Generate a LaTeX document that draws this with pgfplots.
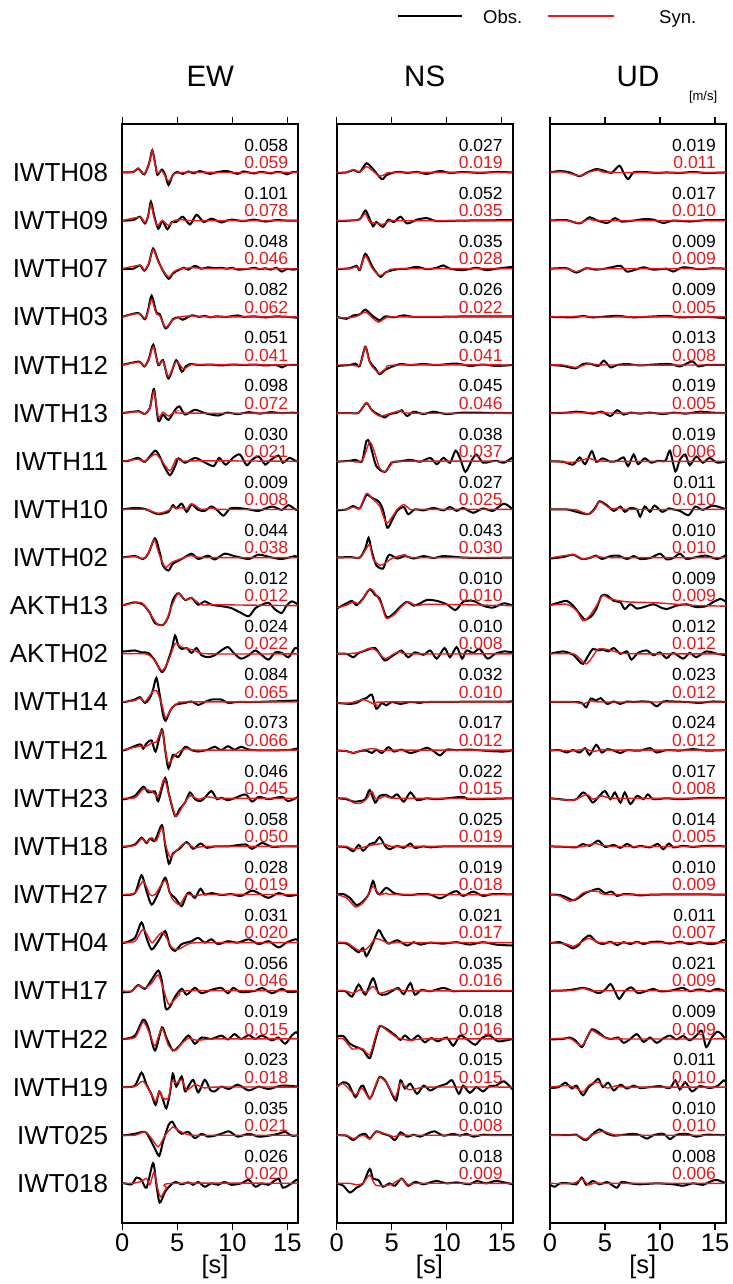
\documentclass[border=0pt]{standalone}
\usepackage{pgfplots}
\pgfplotsset{compat=1.18}
\usepackage{fontspec}
\setmainfont{Liberation Sans}
\definecolor{synred}{RGB}{226,26,30}
\pgfplotsset{
  wave/.style={scale only axis, width=176pt, height=1099pt,
    xmin=0, xmax=16, ymin=-21.83, ymax=1,
    xtick={0,5,10,15}, ytick=\empty,
    tick align=outside, major tick length=7pt,
    axis line style={line width=1.7pt},
    every tick/.style={line width=1.5pt, black},
    xticklabel style={font=\fontsize{25.5}{25.5}\selectfont},
    /pgf/number format/assume math mode=true,
    clip mode=individual},
  obs/.style={black, line width=2pt, smooth, tension=0.45},
  syn/.style={synred, line width=1.4pt, smooth, tension=0.45},
}
\newcommand\tr[3]{%
  \addplot[obs, y filter/.expression={y-#1}] coordinates {#2};
  \addplot[syn, y filter/.expression={y-#1}] coordinates {#3};}
\newcommand\nm[3]{%
  \node[font=\fontsize{17.5}{17.5}\selectfont, inner sep=0pt, anchor=east, black] at (axis cs:15.1,{0.565-#1}) {#2};
  \node[font=\fontsize{17.5}{17.5}\selectfont, inner sep=0pt, anchor=east, synred] at (axis cs:15.1,{0.205-#1}) {#3};}
\newcommand\st[2]{%
  \node[font=\fontsize{26}{26}\selectfont, inner sep=0pt, anchor=east, xshift=-14pt] at (axis cs:0,-#1) {#2};}
\begin{document}
\begin{tikzpicture}
\useasboundingbox (0pt,0pt) rectangle (732pt,-1284pt);
% legend
\draw[black, line width=1.8pt] (398pt,-16pt) -- (462pt,-16pt);
\node[anchor=base west, inner sep=0pt, font=\fontsize{18.5}{18.5}\selectfont] at (483pt,-23.5pt) {Obs.};
\draw[synred, line width=1.4pt] (548pt,-16pt) -- (614pt,-16pt);
\node[anchor=base west, inner sep=0pt, font=\fontsize{18.5}{18.5}\selectfont] at (659pt,-23.5pt) {Syn.};
%%%%%%%%%%%%%%%%%%%% EW
\begin{axis}[wave, name=ew, at={(122.3pt,-1223.3pt)}, anchor=south west]
\tr{0}{(0,0)(1,0.01)(1.45,0.08)(2.0,-0.04)(2.45,0.2)(2.73,0.46)(3.05,0.1)(3.2,-0.05)(3.6,0.06)(3.9,-0.05)(4.2,-0.26)(4.6,-0.05)(5.0,0.01)(5.5,-0.03)(6,0.02)(6.5,-0.02)(7,0.03)(7.5,0)(8,-0.03)(8.5,0)(9,0.02)(9.5,0.03)(10,0)(10.5,-0.03)(11,0.02)(11.5,0)(12,-0.02)(12.5,0.01)(13,0)(13.5,-0.02)(14,0.01)(14.5,0)(15,-0.04)(15.5,0.01)(16,0)}{(0,0)(1,0.01)(1.45,0.09)(2.0,-0.03)(2.45,0.2)(2.73,0.45)(3.0,0.15)(3.2,-0.02)(3.6,0.03)(4.2,-0.18)(4.7,-0.03)(5.5,0)(6.5,0.01)(8,0)(16,0)}
\tr{1}{(0,0)(1.0,0.01)(1.6,0.08)(2.06,-0.06)(2.35,0.1)(2.6,0.39)(2.9,0.1)(3.27,-0.17)(3.64,-0.01)(4.1,-0.18)(4.5,-0.03)(4.9,-0.03)(5.5,0.08)(6.15,-0.08)(6.75,0.12)(7.4,-0.03)(8.1,0.04)(9,-0.04)(9.5,0)(10,0.02)(11,-0.01)(12,0.02)(13,-0.02)(14,0.01)(15,0)(16,0)}{(0,0)(1.6,0.07)(2.06,-0.04)(2.35,0.1)(2.6,0.33)(2.9,0.05)(3.2,-0.1)(3.64,0)(4.2,-0.1)(4.7,0)(5.5,0.02)(6.5,0)(16,0)}
\tr{2}{(0,0)(1.0,0)(1.6,0.07)(2.0,-0.04)(2.4,0.1)(2.8,0.42)(3.2,0.2)(3.6,0)(4.2,-0.21)(4.6,-0.1)(5.1,-0.03)(5.6,0.02)(6.0,-0.02)(6.6,0.06)(7.2,0)(7.8,0.03)(8.4,0.01)(9,0.02)(9.5,0)(10,0.02)(10.5,-0.02)(11.5,0)(12,0.02)(12.5,-0.01)(13,0.01)(13.5,-0.02)(14,0.02)(14.5,-0.06)(15,0)(15.5,-0.02)(16,0)}{(0,0)(1.6,0.07)(2.0,-0.03)(2.4,0.1)(2.8,0.4)(3.2,0.18)(3.6,0)(4.2,-0.17)(4.7,-0.06)(5.3,0)(6.5,0.02)(8,0)(16,0)}
\tr{3}{(0,0)(1.45,0.08)(2.06,-0.05)(2.35,0.15)(2.67,0.44)(3.1,0.09)(3.4,0.06)(3.94,-0.24)(4.6,-0.05)(5.1,-0.01)(5.5,-0.06)(6.3,0.03)(7,0)(7.5,0.02)(8,-0.01)(8.5,0.01)(9.5,0)(10.5,0.03)(11,0)(12,0.01)(13,-0.01)(14,0.01)(15,0)(16,-0.02)}{(0,0)(1.45,0.07)(2.06,-0.03)(2.35,0.12)(2.67,0.36)(3.1,0.06)(3.4,0.03)(3.94,-0.22)(4.6,-0.06)(5.3,0)(6.3,0.02)(8,0)(16,0)}
\tr{4}{(0,0)(1.5,0.07)(2.0,-0.03)(2.4,0.12)(2.82,0.42)(3.27,0)(3.7,0.1)(4.2,-0.28)(4.9,0.1)(5.4,-0.14)(5.8,-0.02)(6.15,0.02)(7,0)(8,0.01)(9,-0.01)(10,0.01)(11,0)(12,0.01)(13,-0.01)(14,0)(14.5,-0.05)(15,0)(16,0)}{(0,0)(1.5,0.06)(2.0,-0.02)(2.4,0.1)(2.82,0.38)(3.27,0.02)(3.7,0.08)(4.2,-0.24)(4.9,0.07)(5.55,-0.08)(6.2,0)(7,0.01)(16,0)}
\tr{5}{(0,0)(1.5,0.04)(2.0,-0.02)(2.5,0.1)(2.88,0.5)(3.27,-0.16)(3.7,-0.03)(4.2,-0.14)(4.8,0.07)(5.2,0.14)(5.7,-0.03)(6.6,0.07)(7.5,0)(8.7,-0.05)(9.5,0.01)(10.5,-0.02)(11.5,0.02)(12.5,-0.01)(13.5,0.02)(14.5,0)(15.5,0.01)(16,0)}{(0,0)(1.5,0.03)(2.0,-0.02)(2.5,0.1)(2.88,0.45)(3.27,-0.08)(3.7,0.02)(4.2,-0.06)(4.8,0.03)(5.5,0)(16,0)}
\tr{6}{(0,0)(0.55,0.01)(1.45,0.07)(2.06,-0.01)(2.97,0.22)(3.4,0.1)(3.8,-0.1)(4.33,-0.29)(4.8,-0.1)(5.1,0.06)(5.7,-0.03)(6.6,0.07)(7.3,0)(8.3,-0.1)(8.8,0.07)(9.4,-0.07)(10.1,0.08)(10.7,0.14)(11.3,-0.08)(11.8,0.03)(12.4,0.1)(13,-0.07)(13.4,0.01)(14.2,0.12)(14.6,-0.03)(15.2,0.07)(15.8,0)(16,0)}{(0,0)(1.45,0.04)(2.06,0)(2.97,0.15)(3.5,0.04)(4.33,-0.2)(4.9,0.05)(5.5,0)(7,0.01)(16,0)}
\tr{7}{(0,0)(1.15,0.03)(2.06,0.01)(2.67,-0.05)(3.27,-0.1)(4.2,-0.05)(4.6,0.09)(4.9,0.02)(5.4,0.12)(5.85,-0.05)(6.3,0.1)(6.9,-0.01)(7.5,-0.03)(8.1,0.06)(8.7,-0.03)(9.2,-0.13)(9.8,0.02)(10.5,0.03)(11.5,0)(12.4,-0.03)(13.6,0.06)(14.5,-0.01)(15.1,0.09)(15.8,-0.01)(16,0)}{(0,0)(2.06,0)(3.27,-0.08)(4.2,-0.02)(4.6,0.05)(5.0,0.02)(5.4,0.04)(5.85,0)(6.3,0.12)(7.2,0)(8.1,0.03)(9,0)(16,0)}
\tr{8}{(0,0)(1.15,0.03)(1.9,-0.03)(2.36,0.08)(2.97,0.4)(3.4,0.11)(3.7,-0.17)(4.2,-0.27)(4.6,-0.13)(5.4,-0.03)(6.3,0.08)(6.9,-0.03)(7.8,0.04)(8.4,-0.04)(9.3,0.08)(10.2,0.03)(11.5,-0.03)(12.4,0.06)(13.6,0)(14.5,-0.03)(15.7,0.03)(16,0)}{(0,0)(1.15,0.02)(1.9,-0.02)(2.36,0.08)(2.9,0.37)(3.3,0.1)(3.9,-0.2)(4.5,-0.1)(5.4,-0.02)(6.3,0.04)(7.5,0)(16,0)}
\tr{9}{(0,0.02)(0.24,0.02)(1.15,0.07)(1.9,0.02)(2.5,-0.15)(2.97,-0.36)(3.7,-0.4)(4.2,-0.22)(4.6,0.12)(5.1,0.26)(5.7,0.12)(6.3,0.16)(6.9,0.02)(7.5,0.09)(8.1,0.02)(9,-0.01)(9.9,-0.05)(10.8,-0.15)(11.5,-0.22)(12.1,-0.05)(12.7,0.02)(13.3,0.06)(13.9,-0.08)(14.5,-0.15)(14.9,-0.01)(15.4,0.09)(16,0.02)}{(0,0.02)(0.24,0.02)(1.75,0.06)(2.67,-0.22)(3.27,-0.4)(3.9,-0.36)(4.5,0)(5.1,0.26)(5.7,0.12)(6.3,0.16)(7.2,0.02)(8.4,0.02)(16,0)}
\tr{10}{(0,0.05)(0.24,0.05)(1.15,0.07)(1.75,0.03)(2.36,0.02)(2.97,-0.14)(3.6,-0.38)(4.0,-0.24)(4.5,0.1)(4.8,0.38)(5.1,0.17)(5.4,0.1)(5.85,0.12)(6.3,0.02)(6.75,0.12)(7.2,-0.03)(7.8,-0.07)(8.4,-0.03)(9,0.07)(9.6,0.14)(10.2,0)(10.8,-0.1)(11.5,-0.03)(12.1,0.07)(12.7,-0.03)(13.3,-0.12)(13.9,0.03)(14.5,0.02)(15.1,-0.07)(15.7,0.12)(16,0.1)}{(0,0)(2.06,0)(2.8,-0.1)(3.6,-0.35)(4.2,-0.14)(4.8,0.21)(5.4,0.14)(6.6,0.07)(7.8,0)(16,0)}
\tr{11}{(0,0)(0.24,0)(1.15,0.05)(1.6,0.1)(2.06,-0.02)(2.5,0.08)(2.8,0.26)(3.1,0.5)(3.4,0.15)(3.7,-0.26)(3.94,-0.39)(4.33,-0.19)(4.8,-0.06)(5.7,-0.02)(6.3,0.01)(6.9,-0.06)(7.5,0)(8.1,0.05)(9,0.05)(9.6,-0.02)(10.5,0)(12,0)(16,0.03)}{(0,0)(1.15,0.03)(1.6,0.08)(2.06,0)(2.67,0.19)(3.1,0.24)(3.6,-0.06)(3.94,-0.33)(4.5,-0.12)(5.1,-0.02)(6,0)(16,0)}
\tr{12}{(0,0)(0.24,0)(1.6,0.12)(1.9,0.03)(2.2,0.14)(2.67,0.2)(3.03,-0.03)(3.6,0.43)(3.9,0)(4.2,-0.38)(4.6,-0.1)(5.1,-0.14)(5.7,0.07)(6.3,0)(6.9,-0.03)(7.8,0.01)(8.4,0.07)(9,0)(9.6,0.08)(10.2,0.01)(10.8,0.07)(11.8,0)(15,0)(15.8,0.03)(16,0)}{(0,0)(1.6,0.08)(2.2,0.08)(2.67,0.15)(3.1,0.17)(3.6,0.41)(3.94,-0.03)(4.2,-0.28)(4.8,-0.1)(5.4,0)(6,0.03)(7,0)(16,0)}
\tr{13}{(0,-0.02)(0.24,-0.02)(1.15,0.05)(1.9,0.24)(2.36,0.12)(2.97,0.14)(3.27,-0.06)(3.9,0.42)(4.24,0.08)(4.8,-0.37)(5.2,-0.23)(5.7,-0.09)(6.15,0.12)(6.6,-0.02)(7.1,-0.06)(7.5,0.01)(8.1,0.15)(8.6,-0.02)(9,0.01)(9.6,-0.04)(10.2,0)(11.2,0.08)(11.8,-0.07)(12.4,0.03)(13.3,-0.02)(14.5,0.03)(15.1,-0.06)(16,0.03)}{(0,0)(1.15,0.01)(1.9,0.19)(2.67,0.14)(3.27,0.05)(3.8,0.4)(4.24,0.08)(4.85,-0.37)(5.4,-0.2)(6.15,0.05)(6.9,-0.02)(7.8,0.03)(9,0)(16,0)}
\tr{14}{(0,-0.01)(0.24,-0.01)(1.15,0.04)(1.75,0.18)(2.2,0.07)(2.5,0.16)(2.97,0.12)(3.6,0.44)(3.9,0.02)(4.24,-0.36)(4.6,-0.15)(5.2,-0.05)(5.85,0.09)(6.45,-0.05)(7.1,0.06)(7.7,-0.03)(8.4,0)(9.6,0)(11.2,0.04)(11.8,-0.05)(12.7,0.07)(13.6,-0.01)(14.5,0)(16,0)}{(0,0)(1.15,0.02)(1.75,0.16)(2.2,0.09)(2.67,0.18)(3.1,0.12)(3.6,0.39)(3.9,0.06)(4.33,-0.22)(4.8,-0.12)(5.7,0.07)(6.6,-0.03)(7.8,0)(16,0)}
\tr{15}{(0,-0.01)(0.24,-0.01)(1.15,0.03)(1.75,0.4)(2.2,0.07)(2.67,-0.21)(3.27,0.03)(3.9,0.35)(4.33,0.03)(4.8,-0.07)(5.4,-0.24)(5.85,0)(6.15,0.04)(6.6,-0.07)(7.1,0.12)(7.5,0)(8.1,0.03)(9,-0.01)(9.9,0.01)(10.8,-0.03)(11.8,0.08)(12.7,-0.01)(13.3,-0.07)(14.2,0.03)(15.1,-0.03)(16,0)}{(0,0)(1.15,0.03)(1.9,0.28)(2.5,0)(2.97,0)(3.9,0.29)(4.5,-0.07)(5.2,-0.21)(5.85,0)(6.6,-0.03)(7.8,0)(16,0)}
\tr{16}{(0,0)(0.24,0)(1.15,0.1)(1.75,0.42)(2.2,0.1)(2.67,-0.14)(3.27,0.03)(3.9,0.24)(4.33,-0.07)(4.8,-0.17)(5.4,-0.03)(6.3,0.03)(6.9,0.1)(7.5,0)(8.1,0.07)(8.7,-0.03)(9.6,0.03)(10.5,0)(11.5,0.07)(12.4,-0.03)(13.3,0.03)(14.2,-0.1)(14.9,0)(15.7,0.07)(16,0.05)}{(0,0)(1.15,0.03)(1.9,0.28)(2.67,0)(3.1,0.1)(3.7,0.21)(4.5,-0.1)(5.1,-0.14)(6.0,-0.03)(7.2,0)(16,0)}
\tr{17}{(0,-0.03)(0.24,-0.03)(0.85,-0.01)(1.45,0.12)(2.06,0.04)(2.67,0.23)(3.27,0.42)(3.6,0.2)(3.94,-0.36)(4.33,-0.33)(4.8,-0.12)(5.4,0.04)(5.85,-0.08)(6.6,0.06)(7.2,-0.05)(8.1,0.02)(9,0.06)(9.6,-0.05)(10.1,0.06)(10.8,-0.03)(12.1,0)(12.7,0.06)(13.6,-0.05)(14.5,0.04)(15.1,-0.03)(16,-0.01)}{(0,0)(0.85,-0.01)(1.45,0.11)(2.06,0.06)(2.67,0.16)(3.27,0.33)(3.7,0.06)(4.2,-0.28)(4.6,-0.22)(5.2,-0.08)(6.0,0)(16,0)}
\tr{18}{(0,0)(0.24,0)(1.15,0.07)(1.9,0.4)(2.36,0.24)(2.97,-0.24)(3.6,0.24)(4.0,0.03)(4.6,-0.24)(5.2,-0.14)(6.0,0.07)(6.6,-0.1)(7.2,0.03)(8.1,0)(9,0.07)(9.6,-0.01)(10.2,0.1)(10.8,0)(11.5,0.08)(12.1,0)(12.7,0.07)(13.6,-0.03)(14.2,0.03)(14.8,-0.1)(15.4,0.07)(15.8,0.14)(16,0.1)}{(0,0)(1.15,0.03)(1.9,0.35)(2.5,0.1)(2.97,-0.14)(3.6,0.22)(4.2,-0.14)(4.8,-0.24)(5.4,-0.1)(6.0,0.01)(6.9,-0.03)(8.4,0)(16,0)}
\tr{19}{(0,0)(0.24,0)(1.15,0.03)(1.75,0.3)(2.2,0.05)(2.67,-0.16)(3.03,-0.37)(3.36,-0.09)(3.7,-0.26)(4.0,-0.44)(4.33,-0.13)(4.6,0.28)(4.9,0.01)(5.4,0.22)(5.7,-0.09)(6.0,0.01)(6.45,0.15)(6.9,-0.11)(7.5,0.15)(8.0,-0.06)(8.4,-0.09)(9,0.01)(9.7,-0.04)(10.5,0.05)(11.5,-0.07)(12.4,0.01)(13.3,-0.04)(14.5,0.03)(16,0.01)}{(0,0)(1.15,0.01)(1.9,0.12)(2.67,-0.16)(3.03,-0.3)(3.36,-0.09)(3.7,-0.23)(4.2,-0.23)(4.5,0.12)(4.9,0.08)(5.4,0.15)(5.85,-0.06)(6.6,0.05)(7.5,-0.02)(8.5,0)(16,0)}
\tr{20}{(0,0)(0.24,0)(1.15,0.03)(2.06,0.07)(2.5,-0.07)(2.97,-0.28)(3.36,-0.43)(3.7,-0.14)(4.2,0.21)(4.55,0.28)(4.9,0.14)(5.4,0.03)(6.0,0.07)(6.6,-0.06)(7.2,0.03)(7.8,-0.03)(8.4,-0.01)(9,0.03)(9.7,0.08)(10.5,-0.03)(11.5,0.03)(12.4,-0.03)(13.3,-0.01)(14.2,0.03)(14.8,0.07)(15.4,-0.01)(16,0)}{(0,0)(1.15,0)(2.06,0.07)(2.67,-0.07)(3.27,-0.24)(3.9,0)(4.6,0.17)(5.1,0.1)(6.0,0.01)(7.2,0)(16,0)}
\tr{21}{(0,0)(0.24,0)(0.85,-0.02)(1.3,0.12)(1.75,0.07)(2.2,-0.09)(2.8,0.42)(3.1,-0.03)(3.4,-0.4)(3.9,-0.17)(4.33,-0.05)(4.8,0.03)(5.4,-0.02)(6.0,0.02)(6.45,-0.03)(6.9,0.03)(7.5,-0.07)(8.1,0)(8.7,-0.03)(9.3,0.03)(9.9,-0.03)(10.8,0)(11.5,0.07)(12.1,-0.07)(12.7,0)(13.3,-0.03)(14.2,0.1)(14.6,-0.09)(15.4,0)(15.8,0.07)(16,0.05)}{(0,0)(0.85,0)(1.6,0.03)(2.2,0.1)(2.5,-0.03)(2.9,0.24)(3.2,-0.1)(3.5,-0.28)(4.0,-0.1)(4.6,0)(16,0)}
\nm{0}{0.058}{0.059}\nm{1}{0.101}{0.078}\nm{2}{0.048}{0.046}\nm{3}{0.082}{0.062}
\nm{4}{0.051}{0.041}\nm{5}{0.098}{0.072}\nm{6}{0.030}{0.021}\nm{7}{0.009}{0.008}
\nm{8}{0.044}{0.038}\nm{9}{0.012}{0.012}\nm{10}{0.024}{0.022}\nm{11}{0.084}{0.065}
\nm{12}{0.073}{0.066}\nm{13}{0.046}{0.045}\nm{14}{0.058}{0.050}\nm{15}{0.028}{0.019}
\nm{16}{0.031}{0.020}\nm{17}{0.056}{0.046}\nm{18}{0.019}{0.015}\nm{19}{0.023}{0.018}
\nm{20}{0.035}{0.021}\nm{21}{0.026}{0.020}
\st{0}{IWTH08}\st{1}{IWTH09}\st{2}{IWTH07}\st{3}{IWTH03}\st{4}{IWTH12}\st{5}{IWTH13}
\st{6}{IWTH11}\st{7}{IWTH10}\st{8}{IWTH02}\st{9}{AKTH13}\st{10}{AKTH02}\st{11}{IWTH14}
\st{12}{IWTH21}\st{13}{IWTH23}\st{14}{IWTH18}\st{15}{IWTH27}\st{16}{IWTH04}\st{17}{IWTH17}
\st{18}{IWTH22}\st{19}{IWTH19}\st{20}{IWT025}\st{21}{IWT018}
\node[font=\fontsize{29.5}{29.5}\selectfont, inner sep=0pt] at (rel axis cs:0.5,1) [yshift=48pt] {EW};
\node[font=\fontsize{25.5}{25.5}\selectfont, inner sep=0pt, anchor=base] at (rel axis cs:0.527,0) [yshift=-50pt] {[s]};
\end{axis}
%%%%%%%%%%%%%%%%%%%% NS
\begin{axis}[wave, name=ns, at={(336.7pt,-1223.3pt)}, anchor=south west]
\tr{0}{(0,-0.01)(0.9,0)(1.5,0.05)(2.1,0.01)(2.7,0.19)(3.3,0.07)(4.1,-0.14)(4.5,-0.06)(5.2,0)(5.8,0.01)(6.4,-0.01)(7.3,0.01)(8.2,-0.03)(9.4,0.03)(10.3,-0.01)(11.5,0.01)(13,-0.01)(14.5,0.01)(16,0)}{(0,0)(0.9,0)(1.5,0.06)(2.1,0.01)(2.7,0.12)(3.3,0.03)(3.9,-0.08)(4.5,-0.03)(5.5,0)(16,0)}
\tr{1}{(0,-0.01)(1.2,0)(2.1,0.03)(2.6,0.21)(2.9,0.09)(3.3,-0.12)(3.6,-0.03)(4.2,-0.13)(4.7,0.02)(5.2,-0.03)(5.8,0.08)(6.4,-0.06)(7.3,0.02)(8.2,0.05)(9.1,-0.01)(11.5,0)(16,0.01)}{(0,0)(1.2,0)(2.1,0.03)(2.6,0.14)(3.0,-0.03)(3.5,-0.05)(4.2,-0.08)(4.8,-0.01)(6,0)(16,0)}
\tr{2}{(0,-0.01)(1.2,0.01)(1.8,0.06)(2.1,-0.03)(2.6,0.31)(3.2,0.06)(3.6,-0.08)(4.0,-0.17)(4.5,-0.07)(5.5,-0.01)(6.4,0)(7.3,0.04)(8.2,-0.01)(9.1,0.02)(9.7,0.07)(10.3,0)(11.5,-0.03)(12.7,0.02)(13.6,-0.03)(14.5,0)(16,0.04)}{(0,0)(1.2,0)(1.8,0.04)(2.1,-0.01)(2.6,0.27)(3.2,0.02)(3.9,-0.14)(4.7,-0.05)(5.8,0)(16,0)}
\tr{3}{(0,0)(0.9,-0.04)(1.5,0.03)(2.1,0.05)(2.6,0.15)(3.2,0.03)(3.9,-0.07)(4.4,0.01)(5.2,-0.01)(6.1,0.03)(7,0)(9,0)(12,0.01)(16,0.01)}{(0,-0.01)(0.9,-0.02)(1.8,0.01)(2.6,0.1)(3.3,-0.03)(3.8,-0.11)(4.5,-0.02)(5.5,0)(16,0)}
\tr{4}{(0,-0.02)(1.2,0)(1.7,0.03)(2.1,-0.02)(2.6,0.38)(3.0,0.07)(3.5,-0.07)(3.9,-0.19)(4.4,-0.1)(5.2,-0.02)(5.8,0.02)(6.7,0)(7.9,0.02)(9.1,0)(10.9,0.03)(12.1,-0.02)(13.3,0.01)(14.5,-0.02)(16,0)}{(0,0)(1.2,0)(2.1,0)(2.6,0.37)(3.0,0.05)(3.5,-0.1)(3.9,-0.17)(4.5,-0.07)(5.5,0)(16,0)}
\tr{5}{(0,0)(1.2,0)(2.0,0.01)(2.7,0.21)(3.2,0.06)(3.8,-0.03)(4.4,-0.09)(4.8,-0.02)(5.5,0.01)(5.9,0.06)(6.4,-0.06)(7.0,0.03)(7.9,-0.02)(8.8,0.03)(10,-0.02)(11.5,0.01)(16,0)}{(0,0)(1.2,0)(2.0,0.01)(2.7,0.22)(3.2,0.05)(3.9,-0.06)(4.7,-0.02)(5.8,0.05)(6.7,0)(16,0)}
\tr{6}{(0,-0.01)(1.2,0.01)(1.7,0.03)(2.3,0)(2.7,0.42)(3.0,0.38)(3.6,-0.1)(4.4,-0.22)(5.0,-0.03)(5.8,0)(6.7,0.03)(7.6,-0.01)(8.5,0.07)(9.1,-0.06)(9.7,0.07)(10.3,-0.03)(10.8,0.22)(11.2,0.07)(11.7,-0.22)(12.3,0.03)(12.7,0.14)(13.3,-0.03)(13.9,-0.01)(14.5,0.01)(15.2,-0.03)(16,0.08)}{(0,0)(1.2,0)(2.3,0.01)(3.0,0.4)(3.5,0.14)(3.9,-0.14)(4.4,-0.22)(5.0,-0.06)(5.8,0)(16,0)}
\tr{7}{(0,-0.02)(0.9,0)(1.5,0.07)(2.1,0.02)(2.7,0.3)(3.2,0.24)(3.8,0.17)(4.2,0)(4.6,-0.38)(5.0,-0.24)(5.5,-0.03)(6.1,0.05)(6.5,-0.1)(7.1,0)(7.9,-0.02)(8.8,0.03)(9.7,-0.02)(10.3,0.05)(10.9,-0.03)(11.5,0.03)(12.4,-0.07)(13.3,0.02)(14.2,-0.03)(15.2,0.12)(16,0)}{(0,0)(0.9,0)(1.5,0.05)(2.1,0.02)(2.7,0.33)(3.3,0.21)(3.9,0.07)(4.5,-0.28)(5.0,-0.17)(5.5,0)(6.1,0.1)(6.7,0)(7.6,0)(16,0)}
\tr{8}{(0,0)(1.2,0.01)(2.1,0)(2.6,0.19)(2.9,0.41)(3.2,0.12)(3.6,-0.16)(4.2,-0.23)(4.5,-0.06)(4.8,0.06)(5.5,-0.02)(6.2,0.03)(7.0,-0.02)(7.9,0.03)(8.8,-0.01)(9.7,0.03)(11.5,0)(13.3,-0.01)(16,0)}{(0,0)(1.2,0)(2.1,0)(2.6,0.15)(3.0,0.27)(3.3,-0.02)(3.9,-0.16)(4.4,-0.12)(5.0,-0.02)(6.2,0.06)(7.0,0)(16,0)}
\tr{9}{(0,-0.06)(0.9,0.05)(1.4,0.1)(1.8,0.01)(2.4,0.15)(3.0,0.34)(3.5,0.22)(3.9,0.15)(4.5,-0.23)(5.0,-0.2)(5.8,-0.02)(6.4,0.08)(7.0,0)(7.6,0.05)(8.2,0.12)(9.1,0.1)(10,0.03)(10.8,-0.09)(11.5,0.08)(12.4,0.1)(13.3,0)(14.2,-0.04)(15.2,0.05)(16,0)}{(0,-0.04)(0.9,0.01)(1.5,0.08)(2.1,0.05)(3.0,0.35)(3.6,0.22)(4.1,0.01)(4.5,-0.26)(5.2,-0.19)(5.9,-0.02)(6.5,0.08)(7.3,0)(8.5,0.03)(16,0)}
\tr{10}{(0,0)(0.9,0)(1.5,-0.07)(2.0,0.02)(2.4,0.05)(3.0,0.1)(3.5,0.12)(3.9,0)(4.4,-0.14)(5.0,-0.05)(5.5,0.02)(5.9,0.07)(6.5,-0.07)(7.1,0.03)(7.9,-0.02)(8.5,0.07)(9.1,-0.1)(9.8,0.12)(10.3,-0.07)(10.9,0.14)(11.4,-0.1)(11.8,0.07)(12.4,0.02)(13.0,0.1)(13.7,-0.1)(14.4,0)(15.2,0.05)(16,0.03)}{(0,0)(0.9,0)(2.1,0.03)(3.0,0.12)(3.6,0.07)(4.4,-0.1)(5.2,0)(5.8,0.05)(6.7,0)(16,0)}
\tr{11}{(0,-0.02)(1.2,-0.04)(1.8,-0.02)(2.3,0.05)(2.7,0.08)(3.2,0.15)(3.6,-0.14)(4.1,-0.02)(4.5,-0.07)(5.0,0)(5.8,-0.04)(6.7,0)(7.6,-0.02)(8.5,0)(16,0.01)}{(0,-0.02)(1.2,-0.02)(2.4,0.05)(3.0,0)(3.6,-0.06)(4.2,0)(16,0)}
\tr{12}{(0,-0.01)(0.9,-0.02)(1.5,-0.06)(2.1,-0.02)(2.7,-0.01)(3.2,-0.06)(3.6,0.01)(4.1,-0.06)(4.7,0.06)(5.2,-0.03)(5.9,0.01)(6.7,-0.06)(7.6,0)(8.2,0.05)(8.8,-0.02)(9.4,-0.11)(10,0.01)(10.9,0)(12.1,0.01)(13.9,-0.02)(15.2,-0.03)(16,0)}{(0,-0.01)(0.9,-0.02)(1.5,-0.06)(2.4,0)(3.3,0.03)(4.2,-0.02)(5.2,0)(16,0)}
\tr{13}{(0,0)(0.9,-0.02)(1.5,-0.07)(2.1,-0.06)(2.6,-0.02)(3.0,0.17)(3.5,-0.09)(3.9,0.05)(4.5,0.07)(5.0,0.01)(5.5,0.08)(6.1,-0.07)(6.7,0.12)(7.3,-0.04)(8.2,0)(9.1,-0.02)(11.5,0.03)(12.1,-0.02)(16,0)}{(0,0)(0.9,0)(1.5,-0.09)(2.1,-0.11)(2.7,-0.02)(3.2,0.14)(3.6,-0.02)(4.5,0.05)(5.5,0)(16,0)}
\tr{14}{(0,0)(0.9,-0.02)(1.5,-0.1)(2.0,0.03)(2.4,-0.09)(3.0,0.05)(3.5,0.08)(3.9,0.19)(4.4,0.01)(4.8,-0.06)(5.5,0.01)(6.1,-0.03)(6.7,0.06)(7.1,-0.03)(7.9,0)(8.5,-0.02)(10,0)(16,0)}{(0,0)(0.9,0)(1.5,-0.06)(2.4,-0.02)(3.3,0.03)(4.2,0.06)(4.8,0.01)(5.5,0)(16,0)}
\tr{15}{(0,0)(0.6,0.01)(1.2,-0.07)(1.8,-0.22)(2.4,-0.14)(2.9,0)(3.3,0.28)(3.6,0.07)(3.9,0)(4.5,0.14)(5.2,0.03)(5.8,0)(6.7,-0.01)(7.6,0.01)(8.5,0)(9.4,-0.08)(10.2,0.01)(10.9,0.07)(11.5,-0.03)(12.4,0.06)(13.3,-0.03)(14.2,0.01)(16,0)}{(0,0)(0.9,-0.07)(1.7,-0.26)(2.4,-0.17)(2.9,0)(3.3,0.17)(3.9,0)(4.5,0.03)(5.5,0)(16,0)}
\tr{16}{(0,0)(0.9,-0.02)(1.5,-0.12)(2.0,-0.2)(2.4,-0.11)(2.7,-0.28)(3.2,-0.06)(3.8,0.26)(4.2,0.12)(4.7,-0.02)(5.5,0.05)(6.4,-0.06)(7.0,0.01)(7.6,-0.04)(8.5,0)(9.7,-0.02)(10.9,0.01)(12.1,-0.04)(13.3,0.01)(14.5,-0.04)(16,-0.06)}{(0,0)(0.9,0)(1.7,-0.12)(2.3,-0.18)(2.9,-0.09)(3.5,0.08)(4.1,0.05)(4.8,-0.02)(5.8,0)(16,0)}
\tr{17}{(0,0)(0.8,-0.01)(1.4,-0.12)(2.0,0.13)(2.6,-0.08)(3.3,0.26)(3.8,-0.05)(4.4,-0.08)(5.0,-0.01)(5.6,0.06)(6.1,-0.07)(6.7,0.16)(7.1,-0.08)(7.7,0.02)(8.5,-0.01)(9.7,0.06)(10.6,-0.01)(11.5,0)(16,0)}{(0,0)(0.8,0)(1.5,-0.05)(2.1,0.02)(2.7,-0.03)(3.3,0.09)(3.9,-0.05)(4.7,0)(5.5,0.04)(6.5,0)(16,0)}
\tr{18}{(0,0.05)(0.6,0.06)(1.2,-0.1)(1.8,-0.17)(2.4,-0.23)(3.0,-0.4)(3.5,-0.03)(3.9,0.26)(4.5,0.21)(5.2,0.1)(5.8,-0.02)(6.2,0.07)(6.8,-0.03)(7.4,0.07)(8.0,-0.07)(8.6,0.02)(9.2,-0.05)(10,0.03)(10.6,-0.14)(11.2,0.07)(11.8,0)(12.6,-0.12)(13.2,0.02)(13.9,0.07)(14.7,-0.05)(16,0)}{(0,0)(0.6,0)(1.4,-0.21)(2.0,-0.19)(2.4,-0.21)(3.0,-0.33)(3.5,0.03)(3.9,0.28)(4.5,0.19)(5.5,0.03)(6.7,-0.03)(8,0)(16,0)}
\tr{19}{(0,0)(0.6,0.1)(1.1,0.05)(1.7,-0.21)(2.1,-0.03)(2.4,0.03)(3.0,-0.24)(3.5,0)(3.9,0.21)(4.4,0.14)(4.8,-0.03)(5.4,-0.28)(5.8,0.14)(6.2,-0.03)(6.7,0.07)(7.3,-0.14)(7.9,0.03)(8.5,-0.07)(9.1,0)(10,0.07)(10.5,0.14)(11.1,-0.14)(11.5,0.03)(12.1,-0.12)(12.7,0)(13.3,-0.09)(13.9,0.02)(14.5,0.03)(15.2,0.12)(16,-0.05)}{(0,0)(0.6,0.07)(1.7,-0.16)(2.3,-0.02)(3.0,-0.24)(3.5,0.02)(3.9,0.2)(4.5,0.1)(5.3,-0.21)(5.8,0.09)(6.5,-0.05)(7.3,-0.03)(8.5,0)(16,0)}
\tr{20}{(0,0)(0.9,-0.01)(1.5,-0.1)(2.1,0)(2.6,0.03)(3.0,-0.07)(3.6,0.08)(4.2,0.03)(4.8,-0.01)(5.3,-0.1)(5.8,0.06)(6.4,-0.03)(7.0,0.01)(7.6,-0.03)(8.2,0.03)(8.9,0.08)(9.7,-0.01)(10.6,0.03)(11.2,-0.01)(11.8,0.03)(12.4,-0.03)(13.3,0.01)(14.2,0)(16,0)}{(0,0)(0.9,0)(1.5,-0.07)(2.4,0)(3.0,-0.08)(3.6,0.07)(4.4,0.03)(5.2,-0.03)(5.8,0.01)(6.7,0)(16,0)}
\tr{21}{(0,0)(0.6,-0.05)(1.2,-0.19)(1.8,-0.09)(2.4,0)(3.0,0.3)(3.3,0.1)(3.8,0.07)(4.2,-0.07)(4.8,0)(5.3,-0.05)(5.9,0.1)(6.5,-0.05)(7.1,0.03)(7.9,-0.02)(8.5,0.02)(9.1,0.05)(10,0)(10.9,0.02)(12.1,-0.02)(12.7,0.05)(13.6,0)(14.5,0.05)(16,-0.02)}{(0,0)(1.2,0)(1.8,-0.03)(2.4,0)(3.0,0.17)(3.5,-0.03)(4.2,-0.05)(5.0,-0.02)(5.9,0.09)(6.5,-0.03)(7.5,0)(16,0)}
\nm{0}{0.027}{0.019}\nm{1}{0.052}{0.035}\nm{2}{0.035}{0.028}\nm{3}{0.026}{0.022}
\nm{4}{0.045}{0.041}\nm{5}{0.045}{0.046}\nm{6}{0.038}{0.037}\nm{7}{0.027}{0.025}
\nm{8}{0.043}{0.030}\nm{9}{0.010}{0.010}\nm{10}{0.010}{0.008}\nm{11}{0.032}{0.010}
\nm{12}{0.017}{0.012}\nm{13}{0.022}{0.015}\nm{14}{0.025}{0.019}\nm{15}{0.019}{0.018}
\nm{16}{0.021}{0.017}\nm{17}{0.035}{0.016}\nm{18}{0.018}{0.016}\nm{19}{0.015}{0.015}
\nm{20}{0.010}{0.008}\nm{21}{0.018}{0.009}
\node[font=\fontsize{29.5}{29.5}\selectfont, inner sep=0pt] at (rel axis cs:0.5,1) [yshift=48pt] {NS};
\node[font=\fontsize{25.5}{25.5}\selectfont, inner sep=0pt, anchor=base] at (rel axis cs:0.527,0) [yshift=-50pt] {[s]};
\end{axis}
%%%%%%%%%%%%%%%%%%%% UD
\begin{axis}[wave, name=ud, at={(550pt,-1223.3pt)}, anchor=south west]
\tr{0}{(0,0)(0.9,0.03)(1.8,0)(2.7,-0.08)(3.3,-0.01)(4.2,0.07)(5.0,0.03)(5.6,-0.01)(6.3,0.14)(6.7,-0.01)(7.1,-0.14)(7.6,0)(8.5,0.01)(9.7,-0.01)(10.6,0)(11.8,-0.01)(13,0.01)(14.2,-0.01)(16,0)}{(0,0)(1.2,0.01)(2.7,-0.07)(3.6,0.01)(4.5,0.05)(5.5,0)(16,0)}
\tr{1}{(0,0)(1.5,0.01)(2.7,-0.06)(3.6,0.07)(4.2,0.01)(5.2,-0.05)(5.9,0.05)(6.5,-0.02)(7.6,0)(8.5,0.03)(9.4,0.02)(10.3,-0.05)(11.2,0)(12.7,-0.02)(14.2,0.01)(16,0.01)}{(0,0)(1.5,0)(2.7,-0.05)(3.6,0.03)(4.8,0)(16,0)}
\tr{2}{(0,0)(1.5,0.01)(2.4,-0.08)(3.3,0.01)(4.2,-0.02)(5.2,0.01)(6.4,0.06)(7.0,-0.06)(7.9,-0.01)(8.5,0.03)(9.4,-0.02)(10.6,0)(11.2,-0.06)(12.1,0.03)(13.6,-0.01)(14.8,0.01)(16,0)}{(0,0)(1.5,0)(2.4,-0.06)(3.3,0.01)(4.5,-0.01)(5.5,0)(16,0)}
\tr{3}{(0,0)(2.1,-0.01)(3.0,0.02)(3.9,-0.01)(6.1,0.02)(7.6,-0.01)(10.6,0.02)(11.8,-0.01)(14.2,0)(16,-0.03)}{(0,0)(3.0,0.01)(5.2,-0.01)(6.5,0)(16,0)}
\tr{4}{(0,0)(1.2,-0.02)(2.3,-0.07)(3.0,0.02)(3.6,0.03)(4.4,-0.02)(4.9,0.09)(5.5,-0.05)(6.1,0)(7.0,0.02)(8.2,-0.01)(9.4,0.01)(10.9,0.02)(11.8,-0.03)(12.6,0.05)(13.0,0.07)(13.5,-0.03)(14.2,0)(16,0)}{(0,0)(1.2,0)(2.4,-0.05)(3.6,0.03)(5.2,0)(16,0)}
\tr{5}{(0,0)(1.5,0.01)(2.4,0.03)(3.3,0.01)(3.9,-0.01)(4.7,0.03)(5.5,-0.06)(6.1,0.06)(6.7,-0.03)(7.3,0.01)(8.2,-0.01)(9.1,0.01)(10.3,-0.02)(11.2,0.01)(12.4,-0.01)(13.6,0.03)(14.8,0.01)(16,0)}{(0,0)(3.6,0.01)(6.7,0)(16,0)}
\tr{6}{(0,0)(1.2,-0.01)(2.1,-0.07)(2.7,0.08)(3.2,-0.06)(3.8,0.21)(4.2,-0.01)(4.8,0.06)(5.5,-0.01)(6.1,0.01)(6.7,0.08)(7.1,-0.1)(7.6,0.14)(8.0,-0.06)(8.6,0.06)(9.2,-0.03)(9.8,0.01)(10.5,0.01)(10.9,0.22)(11.4,-0.21)(11.8,0.03)(12.3,0.14)(12.7,-0.08)(13.3,0.1)(13.9,-0.03)(14.5,0.07)(15.2,-0.03)(16,0)}{(0,0)(2.1,-0.02)(3.6,0.06)(5.2,0)(16,0)}
\tr{7}{(0,0)(1.5,0)(2.4,-0.05)(3.5,-0.1)(4.1,0.03)(4.5,0.17)(5.2,0.08)(5.8,-0.03)(6.4,0.06)(6.8,-0.05)(7.3,0.03)(7.9,0)(8.2,-0.15)(8.6,0.06)(9.1,-0.05)(9.5,0.08)(10.2,-0.05)(10.8,0.02)(11.2,0)(11.8,-0.03)(12.6,-0.12)(13.2,0.06)(13.9,-0.01)(14.8,0.08)(16,0)}{(0,0)(1.5,0)(2.4,-0.01)(3.5,-0.1)(4.1,0.01)(4.5,0.16)(5.5,0.02)(6.4,0.03)(7.3,0)(16,0)}
\tr{8}{(0,-0.02)(1.2,0.01)(2.1,0.06)(2.9,-0.03)(3.6,-0.01)(4.2,0.04)(4.7,-0.03)(5.5,0.03)(6.2,0.04)(7.0,-0.03)(7.6,0.03)(8.2,-0.03)(9.1,-0.01)(10,0.08)(10.6,-0.04)(11.2,-0.01)(11.8,0.08)(12.4,-0.03)(13.3,0.01)(14.2,0.04)(15.2,-0.03)(16,0.05)}{(0,-0.01)(2.1,0.06)(3.0,-0.03)(4.2,0.03)(5.5,0)(16,0)}
\tr{9}{(0,0.01)(0.9,0.07)(1.5,0.1)(2.1,0)(2.7,-0.17)(3.2,-0.29)(3.8,-0.21)(4.2,-0.07)(4.7,0.21)(5.2,0.21)(5.8,0.1)(6.4,0.07)(6.8,-0.07)(7.3,0.03)(7.9,-0.06)(8.5,-0.03)(9.4,0.03)(10.0,-0.03)(10.6,-0.07)(11.5,0)(12.4,0.03)(13.3,-0.03)(14.2,-0.01)(14.8,0.07)(15.5,0.14)(16,0.08)}{(0,0.01)(1.5,0.03)(2.4,-0.1)(3.0,-0.31)(3.6,-0.21)(4.2,-0.01)(4.8,0.21)(5.5,0.14)(7.0,0.08)(9.7,0.06)(12.7,0.01)(16,-0.01)}
\tr{10}{(0,0)(1.2,0.05)(2.1,-0.02)(2.6,-0.14)(3.0,-0.21)(3.5,-0.03)(3.9,0.1)(4.4,0.07)(4.8,0.09)(5.3,0.05)(5.8,0.12)(6.4,0)(7.0,0.05)(7.4,-0.12)(8.0,0.02)(8.8,0.07)(9.4,-0.03)(10.0,0.03)(10.6,-0.09)(11.2,0.02)(12.1,-0.1)(12.7,0.02)(13.3,-0.07)(14.2,0.05)(15.2,0)(16,-0.03)}{(0,0)(2.1,0)(2.7,-0.1)(3.3,-0.21)(3.9,-0.05)(4.4,0.1)(5.2,0.09)(6.4,0.02)(7.9,0)(16,0)}
\tr{11}{(0,0)(2.1,0)(2.9,-0.02)(3.3,-0.11)(3.7,0.07)(4.2,0.03)(4.6,0.08)(5.2,-0.04)(5.8,0.01)(6.4,-0.04)(7.0,0.01)(7.6,0)(8.2,0.01)(9.1,0)(9.7,-0.09)(10.3,0.01)(11.2,0.01)(12.4,0)(13.6,-0.02)(14.8,0.01)(16,0)}{(0,0)(2.1,0)(3.0,-0.04)(3.8,0.03)(4.8,0)(16,0)}
\tr{12}{(0,-0.01)(0.9,0)(1.5,-0.05)(2.1,0)(2.7,-0.05)(3.2,0.04)(3.6,-0.1)(4.2,0.11)(4.7,-0.05)(5.2,0.02)(5.8,-0.01)(6.4,-0.06)(7.0,0)(7.6,-0.01)(8.2,-0.01)(9.1,0.04)(9.7,-0.05)(10.6,0)(11.8,-0.01)(13.0,0.02)(14.2,-0.01)(16,0)}{(0,0)(2.1,-0.01)(3.3,0.02)(3.9,-0.03)(4.8,0.01)(6,0)(16,0)}
\tr{13}{(0,0)(0.9,-0.02)(1.8,-0.04)(2.4,-0.02)(3.0,0.12)(3.5,0.03)(3.9,-0.09)(4.5,0.05)(5.0,0.15)(5.5,-0.02)(5.9,0.12)(6.4,-0.09)(6.8,0.12)(7.3,-0.12)(7.9,0.05)(8.5,-0.02)(8.9,0.08)(9.4,-0.02)(10.6,0)(11.8,-0.02)(14.2,0.01)(16,0)}{(0,0)(2.1,-0.04)(3.3,0.08)(3.9,-0.02)(4.8,0.05)(6.1,0)(16,0)}
\tr{14}{(0,0)(1.5,-0.01)(2.4,-0.02)(3.0,0.05)(3.6,0.01)(4.4,0.12)(5.0,-0.01)(5.8,0.03)(6.4,-0.03)(7.0,0.05)(7.6,-0.02)(8.2,0.01)(9.1,-0.02)(9.8,0.05)(10.3,-0.06)(10.8,0.06)(11.2,-0.02)(12.1,0.01)(13.0,-0.01)(14.2,0.01)(16,0)}{(0,0)(2.7,-0.01)(4.2,0.06)(5.8,0)(16,0)}
\tr{15}{(0,0)(0.9,-0.01)(1.5,-0.06)(2.1,-0.12)(2.6,-0.07)(3.2,0.03)(3.8,0.08)(4.4,0.12)(5.0,0.03)(5.6,0.06)(6.1,-0.03)(6.7,0.01)(7.6,0)(8.2,-0.02)(9.7,0)(16,0)}{(0,0)(0.9,-0.03)(1.8,-0.14)(2.4,-0.08)(3.0,0.03)(3.6,0.07)(4.5,0.06)(5.5,0)(16,0)}
\tr{16}{(0,-0.01)(0.9,0.01)(1.5,-0.05)(2.1,-0.12)(2.6,-0.05)(3.0,0.06)(3.6,0.15)(4.2,0.02)(4.8,-0.03)(5.5,0.02)(6.1,-0.05)(6.7,0.01)(7.3,-0.03)(7.9,0.02)(8.5,-0.03)(9.1,0.01)(10.0,0.02)(10.9,-0.02)(11.8,0.02)(12.7,-0.03)(13.6,0.01)(14.5,-0.03)(15.2,-0.01)(15.8,0.06)(16,0.05)}{(0,0)(1.5,-0.03)(2.1,-0.08)(2.7,-0.01)(3.5,0.09)(4.2,0.03)(5.2,0)(16,0)}
\tr{17}{(0,0)(1.5,0.01)(2.4,0.04)(3.0,0.06)(3.6,0.03)(4.4,-0.05)(5.0,0.02)(5.5,0.14)(5.9,-0.01)(6.3,-0.17)(6.8,-0.01)(7.4,0.07)(8.0,-0.05)(8.8,0)(9.4,0.04)(10.0,-0.01)(10.9,0)(12.1,0.06)(12.7,-0.01)(13.6,0.03)(14.5,-0.01)(15.2,0.04)(16,-0.01)}{(0,0)(2.1,0.01)(3.0,0.05)(3.9,-0.01)(4.8,0)(16,0)}
\tr{18}{(0,-0.01)(1.2,0)(1.8,0.03)(2.3,-0.03)(2.9,-0.17)(3.3,0)(3.8,0.2)(4.4,0.14)(5.0,0.03)(5.6,0)(6.2,0.03)(6.7,-0.08)(7.3,0)(7.9,0.1)(8.5,-0.06)(9.1,0.03)(9.7,-0.08)(10.3,0.01)(10.9,0.07)(11.5,-0.01)(12.1,0.06)(12.7,-0.03)(13.3,0.07)(13.8,0.17)(14.2,-0.17)(14.7,0.03)(15.2,0.15)(15.6,0.1)(16,-0.03)}{(0,0)(1.8,0.01)(2.9,-0.14)(3.7,0.17)(4.4,0.1)(5.2,0.01)(6.4,0)(16,0)}
\tr{19}{(0,-0.02)(0.8,0)(1.4,0.09)(2.0,-0.03)(2.4,0.03)(3.0,-0.17)(3.5,0)(3.9,0.07)(4.4,0.17)(4.8,0)(5.3,0.09)(5.8,-0.07)(6.4,0.05)(7.0,-0.03)(7.6,0.03)(8.2,-0.02)(9.1,0)(10.0,0.02)(10.9,-0.02)(11.4,0.14)(11.8,-0.05)(12.3,0.1)(12.9,-0.09)(13.6,0.02)(14.5,-0.02)(15.2,0.02)(15.8,0.14)(16,0.1)}{(0,0)(1.5,0.03)(2.4,-0.02)(3.0,-0.1)(3.6,0.05)(4.4,0.1)(5.2,-0.02)(6.1,0.03)(7.0,0)(16,0)}
\tr{20}{(0,0)(1.5,0)(2.4,0.01)(2.9,-0.07)(3.3,-0.1)(3.9,0.03)(4.5,0.12)(5.2,0.03)(5.8,-0.01)(6.7,0.01)(7.6,0.03)(8.2,0)(8.8,-0.07)(9.4,0)(10.3,0.03)(10.9,-0.08)(11.5,0.01)(12.4,0.03)(13.3,-0.03)(14.2,0.01)(16,0)}{(0,0)(2.4,0)(3.2,-0.08)(3.9,0.01)(4.8,0.08)(5.8,0.01)(7,0)(16,0)}
\tr{21}{(0,-0.03)(0.45,-0.07)(0.9,0)(1.8,0)(2.4,-0.02)(2.9,0.12)(3.3,-0.03)(3.9,0.05)(4.5,-0.02)(5.2,0.03)(5.6,-0.03)(6.1,-0.09)(6.5,0.03)(7.3,0)(8.2,-0.02)(9.7,0)(11.2,-0.02)(12.1,-0.05)(13.0,0)(13.9,-0.03)(14.7,0.05)(15.2,0.07)(16,0)}{(0,0)(2.1,0)(2.9,0.09)(3.5,-0.03)(4.2,0.02)(5.2,0)(16,0)}
\nm{0}{0.019}{0.011}\nm{1}{0.017}{0.010}\nm{2}{0.009}{0.009}\nm{3}{0.009}{0.005}
\nm{4}{0.013}{0.008}\nm{5}{0.019}{0.005}\nm{6}{0.019}{0.006}\nm{7}{0.011}{0.010}
\nm{8}{0.010}{0.010}\nm{9}{0.009}{0.009}\nm{10}{0.012}{0.012}\nm{11}{0.023}{0.012}
\nm{12}{0.024}{0.012}\nm{13}{0.017}{0.008}\nm{14}{0.014}{0.005}\nm{15}{0.010}{0.009}
\nm{16}{0.011}{0.007}\nm{17}{0.021}{0.009}\nm{18}{0.009}{0.009}\nm{19}{0.011}{0.010}
\nm{20}{0.010}{0.010}\nm{21}{0.008}{0.006}
\node[font=\fontsize{29.5}{29.5}\selectfont, inner sep=0pt] at (rel axis cs:0.5,1) [yshift=48pt] {UD};
\node[font=\fontsize{13}{13}\selectfont, inner sep=0pt] at (rel axis cs:0.87,1) [yshift=27pt] {[m/s]};
\node[font=\fontsize{25.5}{25.5}\selectfont, inner sep=0pt, anchor=base] at (rel axis cs:0.527,0) [yshift=-50pt] {[s]};
\end{axis}
\end{tikzpicture}
\end{document}
